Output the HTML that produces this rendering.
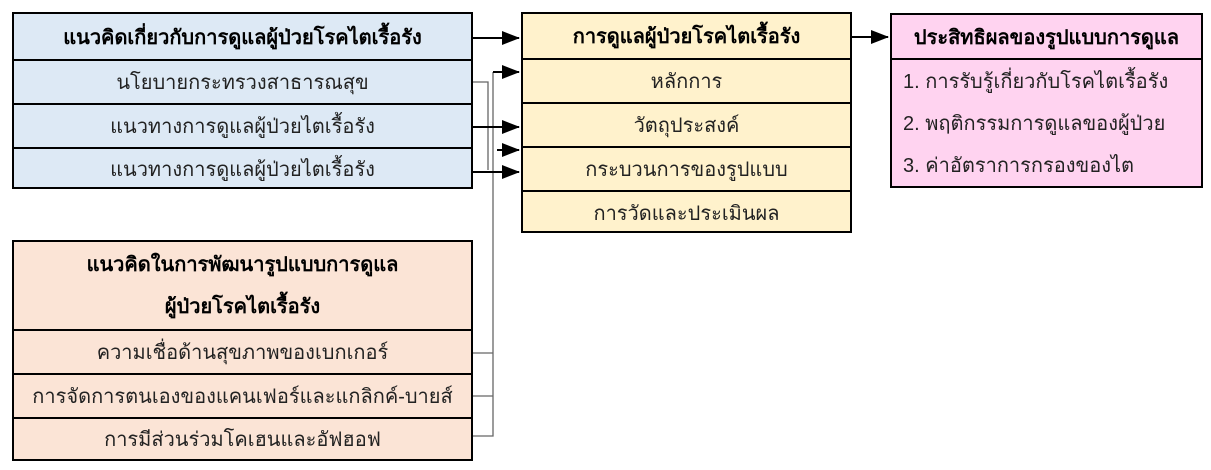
<!DOCTYPE html>
<html><head><meta charset="utf-8"><style>
body{margin:0;width:1211px;height:470px;background:#fff;position:relative;overflow:hidden;font-family:"Liberation Sans","Noto Sans CJK SC",sans-serif;}
.b{position:absolute;border:2px solid #000;box-sizing:border-box;}
.r{position:absolute;left:0;right:0;border-top:2px solid #000;display:flex;align-items:center;justify-content:center;font-size:20px;color:#222;box-sizing:border-box;text-align:center;}
.r.h{border-top:none;font-weight:bold;color:#000;}
.l{justify-content:flex-start;padding-left:11px;}
</style></head><body>
<div class="b" style="left:12px;top:12px;width:461px;height:177px;background:#dde9f5">
<div class="r h" style="top:0;height:45px">แนวคิดเกี่ยวกับการดูแลผู้ป่วยโรคไตเรื้อรัง</div>
<div class="r" style="top:45px;height:44px">นโยบายกระทรวงสาธารณสุข</div>
<div class="r" style="top:89px;height:44px">แนวทางการดูแลผู้ป่วยไตเรื้อรัง</div>
<div class="r" style="top:133px;height:42px">แนวทางการดูแลผู้ป่วยไตเรื้อรัง</div>
</div>
<div class="b" style="left:521px;top:12px;width:331px;height:221px;background:#fff2cc">
<div class="r h" style="top:0;height:44px">การดูแลผู้ป่วยโรคไตเรื้อรัง</div>
<div class="r" style="top:44px;height:44px">หลักการ</div>
<div class="r" style="top:88px;height:44px">วัตถุประสงค์</div>
<div class="r" style="top:132px;height:44px">กระบวนการของรูปแบบ</div>
<div class="r" style="top:176px;height:43px">การวัดและประเมินผล</div>
</div>
<div class="b" style="left:890px;top:13px;width:313px;height:175px;background:#ffd3f0">
<div class="r h" style="top:0;height:43px">ประสิทธิผลของรูปแบบการดูแล</div>
<div class="r l" style="top:43px;height:44px;border-top:2px solid #000">1. การรับรู้เกี่ยวกับโรคไตเรื้อรัง</div>
<div class="r l" style="top:87px;height:42px;border-top:none">2. พฤติกรรมการดูแลของผู้ป่วย</div>
<div class="r l" style="top:129px;height:42px;border-top:none">3. ค่าอัตราการกรองของไต</div>
</div>
<div class="b" style="left:12px;top:240px;width:461px;height:221px;background:#fbe4d6">
<div class="r h" style="top:0;height:87px;line-height:42px;display:block;padding-top:2px">แนวคิดในการพัฒนารูปแบบการดูแล<br>ผู้ป่วยโรคไตเรื้อรัง</div>
<div class="r" style="top:87px;height:44px">ความเชื่อด้านสุขภาพของเบกเกอร์</div>
<div class="r" style="top:131px;height:44px">การจัดการตนเองของแคนเฟอร์และแกลิกค์-บายส์</div>
<div class="r" style="top:175px;height:42px">การมีส่วนร่วมโคเฮนและอัฟฮอฟ</div>
</div>
<svg width="1211" height="470" style="position:absolute;left:0;top:0">
<defs><marker id="c" markerWidth="18" markerHeight="14" refX="17" refY="7" orient="auto" markerUnits="userSpaceOnUse"><path d="M0,0L18,7L0,14z" fill="#000"/></marker></defs>
<g stroke="#666" stroke-width="1.3" fill="none">
<path d="M473,82H488V170"/>
<path d="M473,436H493V72"/>
<path d="M473,353H493"/>
<path d="M473,396H493"/>
</g>
<g stroke="#000" stroke-width="2" fill="none">
<path d="M473,38H519" marker-end="url(#c)"/>
<path d="M493,72H519" marker-end="url(#c)"/>
<path d="M473,127H519" marker-end="url(#c)"/>
<path d="M497,150H519" marker-end="url(#c)"/>
<path d="M473,172H519" marker-end="url(#c)"/>
<path d="M852,37H888" marker-end="url(#c)"/>
</g>
</svg>
</body></html>
